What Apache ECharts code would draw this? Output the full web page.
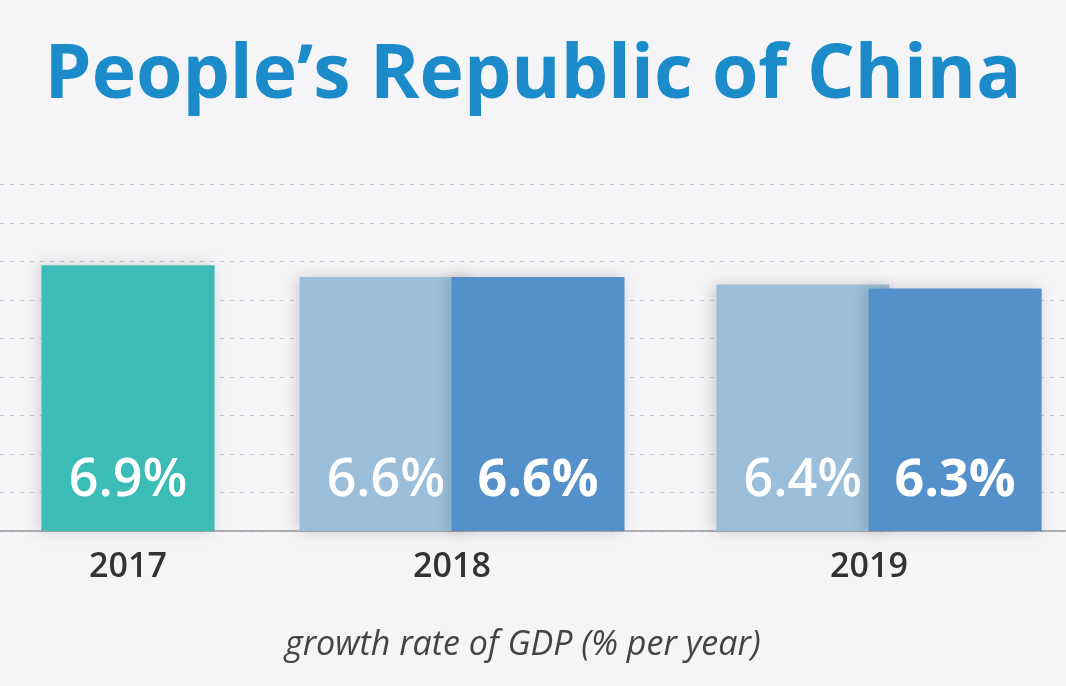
<!DOCTYPE html>
<html>
<head>
<meta charset="utf-8">
<script src="https://cdn.jsdelivr.net/npm/echarts@6/dist/echarts.min.js"></script>
<style>
html,body{margin:0;padding:0;background:#f5f5f8;}
#chart{width:1066px;height:686px;}
</style>
</head>
<body>
<div id="chart"></div>
<script>
const titleText = "People\u2019s Republic of China";
const subtitleText = "growth rate of GDP (% per year)";
const years = ['2017', '2018', '2019'];
const firstValues = [6.9, 6.6, 6.4];
const secondValues = [null, 6.6, 6.3];
const yMin = 0, yMax = 9, yInterval = 1;

const colTeal = '#3bbcb6', colLight = '#9bbfda', colDark = '#5490c9';
const fontFam = '"Open Sans", sans-serif';
const gridTop = 184.5, gridBottom = 155;
const groupLayout = [
  {left: 41.5, width: 173},
  {left: 299.5, width: 325},
  {left: 716, width: 326}
];
const barW = 173;

const grids = [{left: 0, right: 0, top: gridTop, bottom: gridBottom}];
const xAxes = [{gridIndex: 0, type: 'category', data: [''], axisLine: {show: true, lineStyle: {color: '#9a9a9e', width: 1.5}}, axisTick: {show: false}, axisLabel: {show: false}}];
const yAxes = [{gridIndex: 0, type: 'value', min: yMin, max: yMax, interval: yInterval, axisLabel: {show: false}, axisLine: {show: false}, axisTick: {show: false},
  splitLine: {show: true, lineStyle: {color: '#c9c9ce', type: [4, 6], width: 1}}}];
const series = [];
const shadow = {shadowColor: 'rgba(0,0,0,0.16)', shadowBlur: 14, shadowOffsetX: -3, shadowOffsetY: 0};

years.forEach((y, i) => {
  const g = i + 1;
  grids.push({left: groupLayout[i].left, width: groupLayout[i].width, top: gridTop, bottom: gridBottom});
  const hasSecond = secondValues[i] != null;
  xAxes.push({gridIndex: g, type: 'category', data: [y], axisLine: {show: false}, axisTick: {show: false},
    axisLabel: {show: true, margin: 19, color: '#333', fontSize: 34, fontWeight: 600, fontFamily: fontFam,
      padding: hasSecond ? [0, 20, 0, 0] : 0}});
  yAxes.push({gridIndex: g, type: 'value', min: yMin, max: yMax, interval: yInterval, show: false, splitLine: {show: false}});
  series.push({
    type: 'bar', xAxisIndex: g, yAxisIndex: g, data: [firstValues[i]], barWidth: barW, barGap: '-12%',
    itemStyle: Object.assign({color: i === 0 ? colTeal : colLight}, shadow),
    label: {show: true, position: 'insideBottom', distance: 24, formatter: p => p.value + '%', color: '#fff',
      fontSize: 52, fontWeight: 600, fontFamily: fontFam},
    z: 2
  });
  if (hasSecond) {
    series.push({
      type: 'bar', xAxisIndex: g, yAxisIndex: g, data: [secondValues[i]], barWidth: barW, barGap: '-12%',
      itemStyle: Object.assign({color: colDark}, shadow),
      label: {show: true, position: 'insideBottom', distance: 24, formatter: p => p.value + '%', color: '#fff',
        fontSize: 52, fontWeight: 'bold', fontFamily: fontFam},
      z: 3
    });
  }
});

const chart = echarts.init(document.getElementById('chart'));
chart.setOption({
  backgroundColor: '#f5f5f8',
  animation: false,
  title: [
    {text: titleText, left: 'center', top: 34, textStyle: {color: '#1b8bca', fontSize: 75, fontWeight: 'bold', fontFamily: fontFam}},
    {text: subtitleText, left: 280, top: 623, textStyle: {color: '#444', fontSize: 34, fontStyle: 'italic', fontWeight: 'normal', fontFamily: fontFam}}
  ],
  grid: grids,
  xAxis: xAxes,
  yAxis: yAxes,
  series: series
});
</script>
</body>
</html>
